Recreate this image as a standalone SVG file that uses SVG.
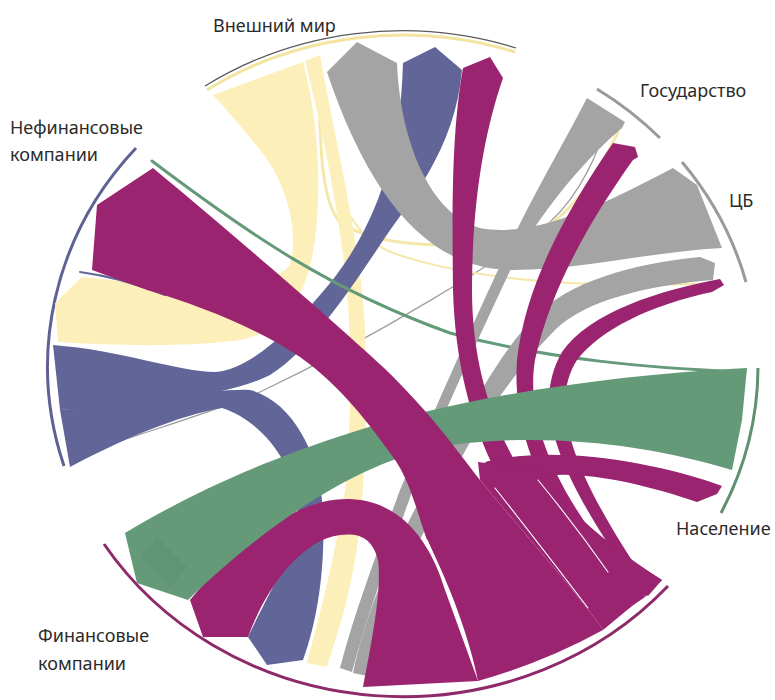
<svg xmlns="http://www.w3.org/2000/svg" width="775" height="700" viewBox="0 0 775 700">
<style>
.lbl{font-family:"Noto Sans","Open Sans","Liberation Sans",sans-serif;font-size:18px;fill:#2b2b2b}
.arc{fill:none;stroke-width:3}
.y{fill:#fcefb9}.g{fill:#a4a4a4}.s{fill:#626598}.m{fill:#9a2470}.gr{fill:#659a79}
.thin{fill:none;stroke-linecap:round}
.sliver{fill:none;stroke:#fff;stroke-width:1.1;stroke-linecap:round}
</style>
<rect width="775" height="700" fill="#fff"/>

<g id="node-world">
<path class="arc" d="M207,90 A355,331 0 0,1 515,52" stroke="#f3e5a0" stroke-width="4"/>
<path d="M205,86 A358,334 0 0,1 516,48" fill="none" stroke="#5a5a5a" stroke-width="1.2"/>
<text class="lbl" x="213" y="32">Внешний мир</text>
</g>
<g id="node-gov">
<path class="arc" d="M597,89 A355,331 0 0,1 660,138" stroke="#9a9a9a"/>
<text class="lbl" x="640" y="97">Государство</text>
</g>
<g id="node-cb">
<path class="arc" d="M682,162 A355,331 0 0,1 746,282" stroke="#9a9a9a"/>
<text class="lbl" x="729" y="207">ЦБ</text>
</g>
<g id="node-households">
<path class="arc" d="M758,368 A355,331 0 0,1 721,513" stroke="#5f9070"/>
<text class="lbl" x="676" y="535">Население</text>
</g>
<g id="node-financial">
<path class="arc" d="M668,586 A355,331 0 0,1 104,544" stroke="#8e2a6a"/>
<text class="lbl" x="38" y="642">Финансовые</text>
<text class="lbl" x="38" y="670">компании</text>
</g>
<g id="node-nonfinancial">
<path class="arc" d="M64,466 A355,331 0 0,1 136,148" stroke="#5f6194"/>
<text class="lbl" x="10" y="134">Нефинансовые</text>
<text class="lbl" x="10" y="161">компании</text>
</g>

<g id="connectors">
<!-- thin chords -->
<path class="thin" d="M70,458 C 150,430 220,410 260,392 C 380,335 500,260 550,222 C 580,195 600,150 608,118" stroke="#9c9c9c" stroke-width="1.2"/>
<path class="thin" d="M318,62 C 320,140 320,200 340,222 C 380,250 460,248 520,238 C 570,225 600,170 618,132" stroke="#f4e7a8" stroke-width="3"/>
<path class="thin" d="M316,62 C 325,160 335,230 393,253 C 460,276 560,290 715,283" stroke="#f4e7a8" stroke-width="2"/>

<!-- yellow: world -> non-financial -->
<path class="y" d="M213,95 L303,62 C 318,120 322,180 315,240 C 308,290 290,330 240,340 C 180,348 110,345 58,342 L 55,303 L 82,277 C 160,285 260,300 290,265 C 300,230 285,180 260,150 C 240,125 225,108 213,95 Z"/>
<!-- yellow: world -> financial -->
<path class="y" d="M305,61 L320,55 C 335,140 362,250 365,330 C 368,420 365,480 358,540 C 350,600 335,640 327,667 L 307,663 C 318,620 335,560 345,490 C 352,420 352,330 345,270 C 335,190 320,120 305,61 Z"/>

<!-- slate: non-financial -> world -->
<path class="s" d="M403,63 L435,47 L462,70 C 455,150 410,200 380,245 C 350,290 310,350 270,375 C 230,395 150,405 60,410 L 53,345 C 120,350 180,372 215,372 C 250,370 290,330 320,295 C 360,250 400,180 403,63 Z"/>
<!-- slate: non-financial -> financial -->
<path class="s" d="M60,410 C 150,402 215,388 250,390 C 290,400 318,450 322,500 C 327,560 318,620 303,660 L 267,665 L 248,637 C 270,590 300,545 298,505 C 292,460 260,420 222,408 C 180,415 120,440 70,467 Z"/>
<path class="thin" d="M80,272 C 110,276 140,285 165,295" stroke="#626598" stroke-width="2"/>

<!-- green thin: households -> non-financial -->
<path class="thin" d="M152,161 C 250,235 330,290 450,333 C 550,360 650,368 745,372" stroke="#659a79" stroke-width="3"/>

<!-- gray: world -> CB -->
<path class="g" d="M327,72 L357,42 L397,63 C 400,140 430,215 480,228 C 540,240 620,195 673,168 L 697,185 L 722,248 C 650,252 580,270 513,270 C 430,270 370,200 327,72 Z"/>
<!-- gray: government -> financial -->
<path class="g" d="M587,98 L625,122 L622,128 C 590,155 545,205 515,260 C 480,335 440,420 412,492 C 392,548 368,612 352,672 L 340,668 C 355,610 380,545 400,490 C 430,420 470,330 505,255 C 530,200 560,150 587,98 Z"/>
<!-- gray: CB -> financial -->
<path class="g" d="M700,257 L715,263 L713,280 C 650,285 585,300 555,330 C 520,365 480,420 455,470 C 420,540 382,610 367,676 L 353,673 C 366,610 400,530 440,465 C 470,410 500,350 540,312 C 580,275 650,262 700,257 Z"/>

<!-- magenta: world -> financial -->
<path class="m" d="M463,68 L490,57 L503,78 C 485,130 472,200 472,290 C 472,360 490,420 520,470 C 555,530 600,580 632,606 L 605,628 C 570,585 520,520 495,470 C 470,420 455,360 453,290 C 452,200 452,130 463,68 Z"/>
<!-- magenta: government -> financial -->
<path class="m" d="M613,143 L635,147 L638,157 L633,160 C 590,220 550,290 535,360 C 525,420 555,500 645,597 L 632,606 C 540,510 512,430 517,360 C 525,290 560,220 613,143 Z"/>
<!-- magenta: CB -> financial -->
<path class="m" d="M720,279 L724,285 L712,292 C 650,305 600,330 577,360 C 552,400 562,460 652,590 L 645,597 C 545,460 535,400 562,352 C 590,312 660,290 720,279 Z"/>
<!-- magenta: households -> financial -->
<path class="m" d="M722,486 L717,494 L697,502 C 640,482 570,468 535,478 C 560,510 610,548 662,580 L 648,596 C 595,560 520,510 485,462 C 550,445 650,460 722,486 Z"/>
<!-- fan body where the financial ribbons merge -->
<path class="m" d="M478,462 L540,470 C 565,510 612,548 662,580 L 603,630 C 575,590 525,535 480,480 Z"/>
<!-- magenta: financial -> financial (self loop) -->
<path class="m" d="M190,600 C 240,540 300,497 350,499 C 400,501 430,540 445,590 L 478,681 L 363,687 C 372,640 382,590 378,560 C 372,535 355,533 340,535 C 300,540 265,590 248,637 L 203,637 Z"/>

<!-- green: households -> financial -->
<path class="gr" d="M747,368 L 742,420 L 732,470 C 650,445 550,432 450,445 C 350,460 250,540 188,600 L 137,583 L 125,533 C 180,500 250,465 350,433 C 450,400 600,375 747,368 Z"/>
<path d="M140,557 L157,537 L187,567 L170,587 Z" fill="#5f9573"/>

<!-- magenta: non-financial -> financial (large) -->
<path class="m" d="M153,168 C 230,232 330,318 383,367 C 430,412 455,448 480,480 C 525,535 575,590 603,630 Q 545,662 478,681 C 470,640 450,585 427,540 C 418,515 410,480 393,457 C 370,425 340,385 300,357 C 260,330 200,305 147,290 L 92,270 L 97,205 Z"/>

<!-- slivers -->
<path class="sliver" d="M427,540 Q 452,595 470,655"/>
<path class="sliver" d="M495,488 Q 540,545 588,608"/>
<path class="sliver" d="M538,480 Q 575,525 608,572"/>
</g>
</svg>
